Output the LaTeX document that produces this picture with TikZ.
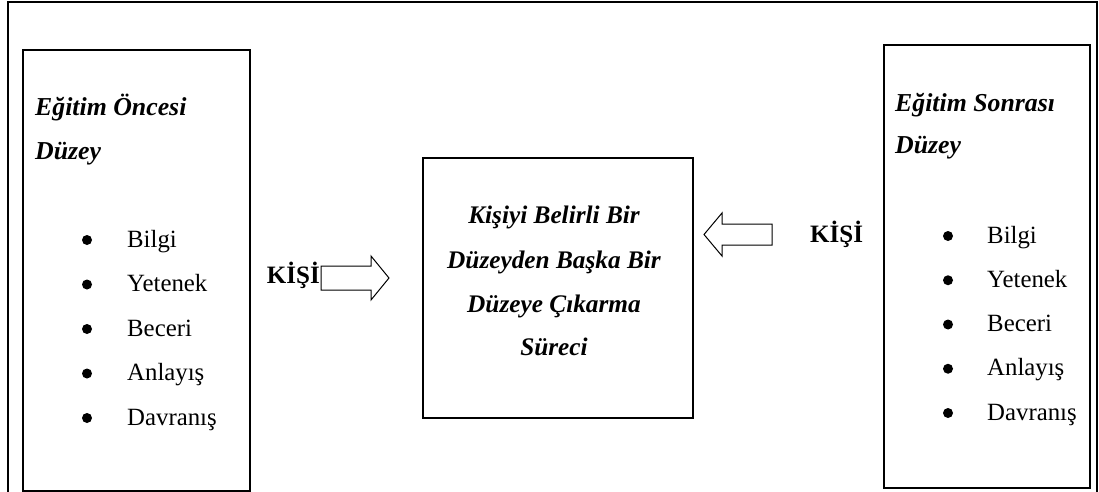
\documentclass[tikz,border=0pt]{standalone}
\usepackage{fontspec}
\setmainfont{Liberation Serif}
\begin{document}
\begin{tikzpicture}[x=1pt,y=-1pt,
  frame/.style={line width=2pt},
  panel/.style={draw, line width=1.6pt, inner sep=0pt, anchor=north west},
  heading/.style={font=\fontsize{25.8}{30}\selectfont\bfseries\itshape, anchor=base west, inner sep=0pt},
  item/.style={font=\fontsize{24.8}{29}\selectfont, anchor=base west, inner sep=0pt},
  dot/.style={circle, fill, inner sep=0pt, minimum size=10pt},
  person/.style={font=\fontsize{25}{29}\selectfont\bfseries, inner sep=0pt},
  process/.style={font=\fontsize{25.3}{29}\selectfont\bfseries\itshape, anchor=base, inner sep=0pt},
  blockarrow/.style={draw, line width=1pt, fill=white, line join=miter}
]
\useasboundingbox (0,0) rectangle (1099,492);

% outer frame, open at the bottom
\draw[frame] (7.5,492) -- (7.5,2) -- (1097,2) -- (1097,492);

% the three panels
\node[panel, minimum width=227, minimum height=441] (pre)  at (22,49)  {};
\node[panel, minimum width=206, minimum height=443] (post) at (883,44) {};
\node[panel, minimum width=270, minimum height=260] (proc) at (422,157) {};

% panel headings
\node[heading] (preTitle)  at (35,116)  {Eğitim Öncesi};
\node[heading] (preLevel)  at (35,159)  {Düzey};
\node[heading] (postTitle) at (895,112) {Eğitim Sonrası};
\node[heading] (postLevel) at (895,153) {Düzey};

% bullet lists
\foreach \t [count=\i from 0] in {Bilgi,Yetenek,Beceri,Anlayış,Davranış}{
  \pgfmathsetmacro{\yl}{247+44.5*\i}
  \pgfmathsetmacro{\yr}{243+44.25*\i}
  \node[dot]  (preDot\i)   at (87,\yl-7)  {};
  \node[item] (preItem\i)  at (127,\yl)   {\t};
  \node[dot]  (postDot\i)  at (948,\yr-7) {};
  \node[item] (postItem\i) at (987,\yr)   {\t};
}

% process text
\node[process] (procA) at (554,223) {Kişiyi Belirli Bir};
\node[process] (procB) at (554,268) {Düzeyden Başka Bir};
\node[process] (procC) at (554,312) {Düzeye Çıkarma};
\node[process] (procD) at (554,355) {Süreci};

% person labels with block arrows
\node[person, anchor=base east] (kisiL) at (320,283) {KİŞİ};
\draw[blockarrow] (321,266) -- (371,266) -- (371,256) -- (389,278)
  -- (371,300) -- (371,290) -- (321,290) -- cycle;

\node[person, anchor=base west] (kisiR) at (810,242) {KİŞİ};
\draw[blockarrow] (772,224) -- (722,224) -- (722,213) -- (704,234.5)
  -- (722,256) -- (722,245) -- (772,245) -- cycle;
\end{tikzpicture}
\end{document}
